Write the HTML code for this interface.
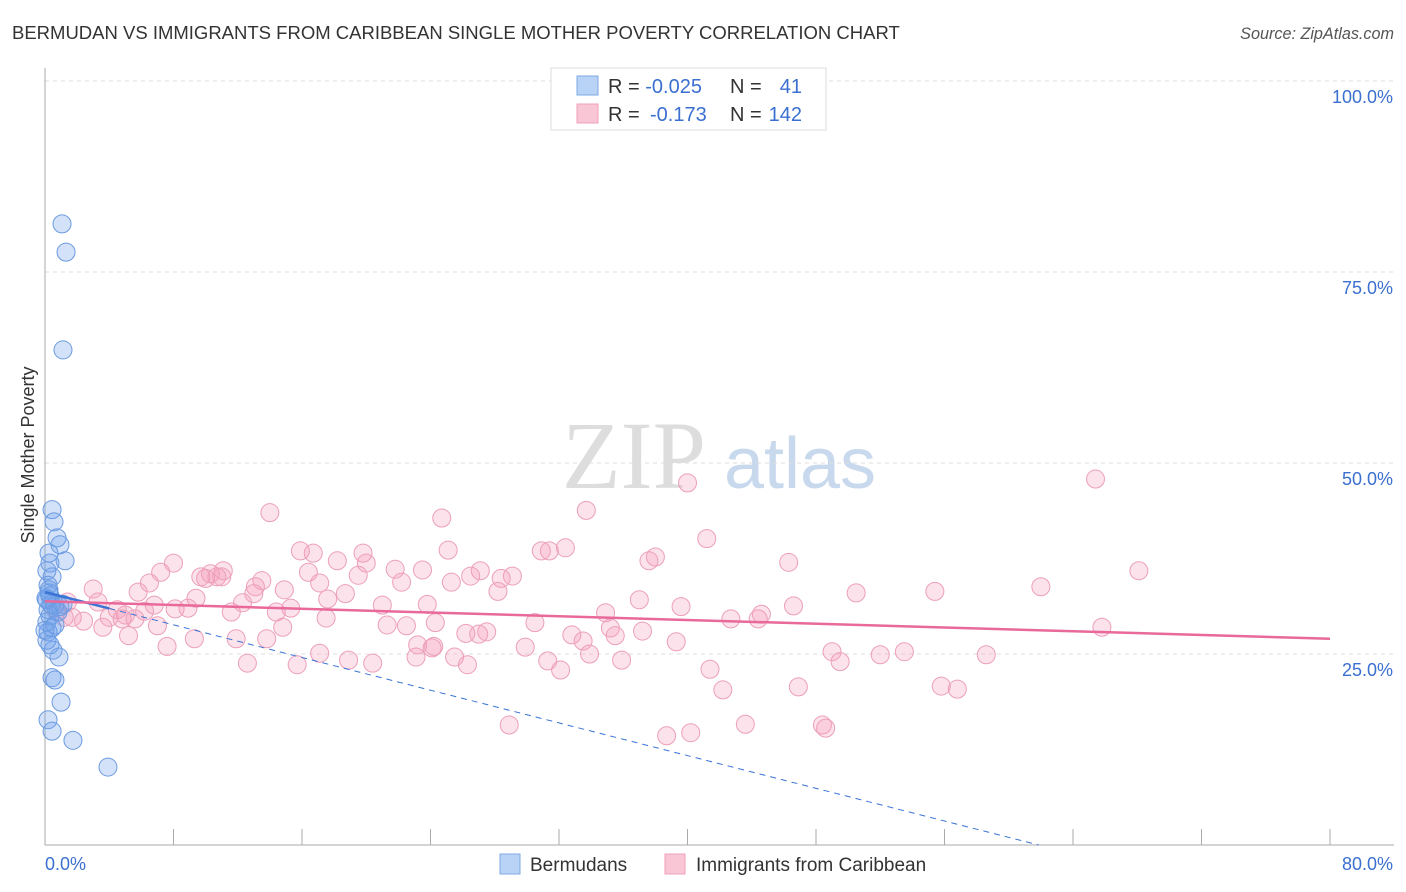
<!DOCTYPE html>
<html><head><meta charset="utf-8"><style>
body{margin:0;background:#fff;font-family:"Liberation Sans",sans-serif;}
svg{display:block}
</style></head><body>
<svg id="chart" width="1406" height="892">
<text x="12" y="39" font-size="18.5" fill="#333">BERMUDAN VS IMMIGRANTS FROM CARIBBEAN SINGLE MOTHER POVERTY CORRELATION CHART</text>
<text x="1394" y="39" font-size="16.2" fill="#555" text-anchor="end" font-style="italic">Source: ZipAtlas.com</text>
<text x="634" y="488" font-size="96" fill="#ddd" font-family="Liberation Serif" text-anchor="middle">ZIP</text>
<text x="800" y="488" font-size="72" fill="#c8d9ee" text-anchor="middle">atlas</text>
<g id="grid"></g>
<g id="axes"></g>
<g id="marks"></g>
<text transform="translate(34,455) rotate(-90)" font-size="18" fill="#333" text-anchor="middle">Single Mother Poverty</text>
<g>
<rect x="551" y="68" width="275" height="62" fill="#fff" stroke="#ddd"/>
<rect x="577" y="76" width="21" height="19" fill="#b8d3f5" stroke="#7fa9e3"/>
<rect x="577" y="104" width="21" height="19" fill="#f9c6d6" stroke="#eea0ba"/>
<text x="608" y="93" font-size="20" fill="#333">R = <tspan fill="#3b6fd0">-0.025</tspan></text>
<text x="730" y="93" font-size="20" fill="#333">N =</text><text x="802" y="93" font-size="20" fill="#3b6fd0" text-anchor="end">41</text>
<text x="608" y="121" font-size="20" fill="#333">R = </text><text x="650" y="121" font-size="20" fill="#3b6fd0">-0.173</text>
<text x="730" y="121" font-size="20" fill="#333">N = </text><text x="802" y="121" font-size="20" fill="#3b6fd0" text-anchor="end">142</text>
</g>
<g>
<rect x="500" y="854" width="20" height="20" fill="#b8d3f5" stroke="#7fa9e3"/>
<text x="530" y="871" font-size="19" fill="#333">Bermudans</text>
<rect x="665" y="854" width="20" height="20" fill="#f9c6d6" stroke="#eea0ba"/>
<text x="696" y="871" font-size="19" fill="#333">Immigrants from Caribbean</text>
</g>
</svg>
<script>
const xTicks=[0,8,16,24,32,40,48,56,64,72,80];
const yTicks=[25,50,75,100];
const blueX=[1.06,1.31,1.12,0.44,0.56,0.75,0.93,0.25,1.25,0.31,0.44,0.19,0.25,0.31,0.12,0.62,0.19,0.93,0.31,0.12,0.44,0.19,0.62,0,0.5,0.87,0.44,0.62,1.0,0.19,0.44,1.74,3.92,0.12,0.31,0.06,0.81,0.37,1.12,0.12,0.25];
const blueY=[81.3,77.6,64.8,43.9,42.3,40.2,39.3,38.2,37.2,36.9,35.1,34.0,33.4,32.6,32.1,31.4,30.8,31.2,30.0,29.2,28.4,27.9,28.8,28.1,25.5,24.6,21.9,21.6,18.7,16.4,14.9,13.7,10.2,26.8,26.2,32.3,30.5,31.5,31.5,35.9,33.0];
const pinkX=[14.0,15.9,16.7,24.7,25.1,33.7,40.0,41.2,65.4,68.1,62.0,65.8,55.4,50.5,46.3,46.6,44.6,42.7,39.6,37.0,38.0,37.6,34.9,32.4,30.9,31.4,29.1,28.4,28.2,27.1,26.5,25.3,23.5,22.2,21.8,20.0,19.8,19.5,18.2,17.1,16.4,14.9,13.5,13.1,13.0,11.1,11.0,10.7,10.3,10.0,9.7,8.0,7.2,6.5,5.8,3.0,4.0,4.5,5.0,5.6,6.2,6.8,8.1,8.9,9.4,12.3,11.6,15.3,14.4,17.6,18.7,21.0,23.8,30.5,27.5,27.0,26.2,24.3,22.5,21.3,23.2,24.1,24.2,17.5,14.8,13.8,11.9,9.3,7.6,7.0,5.2,3.6,2.4,1.7,1.2,0.7,3.3,1.4,4.8,35.2,35.5,37.2,32.8,33.5,29.9,25.5,26.3,31.3,32.1,33.9,35.9,39.3,44.4,49.0,49.5,52.0,53.5,58.6,41.4,42.2,46.9,55.8,56.8,28.9,38.7,40.2,43.6,48.4,48.6,12.6,15.7,18.9,20.4,23.1,17.1];
const pinkY=[43.5,38.5,38.2,42.8,38.6,43.8,47.4,40.1,47.9,35.9,33.8,28.5,33.2,33.0,37.0,31.3,30.2,29.6,31.2,32.1,37.7,37.2,30.4,38.9,38.5,38.5,35.2,34.9,33.2,35.9,35.2,34.4,36.0,34.4,36.1,36.9,38.2,35.3,37.2,34.3,35.7,33.4,34.6,33.8,32.9,35.9,35.1,35.1,35.5,34.9,35.1,36.9,35.7,34.3,33.1,33.5,29.8,30.8,30.1,29.6,30.6,31.4,30.9,31.0,32.3,31.7,30.5,31.0,30.5,32.2,32.9,31.4,31.5,29.1,27.9,27.6,27.7,29.1,28.7,28.8,26.2,25.8,26.0,29.7,28.5,27.0,27.0,27.0,26.0,28.7,27.4,28.5,29.3,29.8,29.8,30.6,31.8,31.8,29.6,28.4,27.4,28.0,27.5,26.7,25.9,24.6,23.6,24.1,22.9,25.0,24.2,26.6,29.6,25.3,24.0,24.9,25.3,24.9,23.0,20.3,20.7,20.8,20.4,15.7,14.3,14.7,15.8,15.7,15.3,23.8,23.6,24.2,23.8,24.6,25.1];
const blueTrend=[33.1,-0.535];
const pinkTrend=[31.9,-0.06125];
const NS="http://www.w3.org/2000/svg";
const sx=v=>45+v*(1285/80);
const sy=v=>845-v*7.64;
function mk(tag,attrs,parent){const e=document.createElementNS(NS,tag);for(const k in attrs)e.setAttribute(k,attrs[k]);document.getElementById(parent).appendChild(e);return e;}
yTicks.forEach(t=>{
 const l=mk('line',{x1:45,x2:1394,y1:sy(t),y2:sy(t),stroke:'#ddd','stroke-dasharray':'4,4'},'grid');
 
 
 const tx=mk('text',{x:1393,y:sy(t)+22,'font-size':18,fill:'#3b6fd0','text-anchor':'end'},'grid');
 tx.textContent=t.toFixed(1)+'%';
 
 
});
const ax=mk('line',{x1:45,x2:45,y1:68,y2:845,stroke:'#aaa'},'axes');


const bx=mk('line',{x1:45,x2:1394,y1:845,y2:845,stroke:'#aaa'},'axes');


xTicks.forEach(t=>{
 const l=mk('line',{x1:sx(t),x2:sx(t),y1:829,y2:845,stroke:'#aaa'},'axes');
 
 
});
[[0,'start'],[80,'end']].forEach(([t,a])=>{
 const tx=mk('text',{x:t===0?45:1393,y:870,'font-size':18,fill:'#3b6fd0','text-anchor':a},'axes');
 tx.textContent=t.toFixed(1)+'%';
 
 
});
pinkX.forEach((x,i)=>{
 const c=mk('circle',{cx:sx(x),cy:sy(pinkY[i]),r:9,fill:'rgba(244,160,190,0.3)',stroke:'#ec9fba','stroke-width':1},'marks');
 
 
});
blueX.forEach((x,i)=>{
 const c=mk('circle',{cx:sx(x),cy:sy(blueY[i]),r:9,fill:'rgba(110,160,235,0.3)',stroke:'#6c9be0','stroke-width':1},'marks');
 
 
});
const bEnd=-blueTrend[0]/blueTrend[1];
const bd=mk('line',{x1:sx(4),y1:sy(blueTrend[0]+blueTrend[1]*4),x2:sx(bEnd),y2:sy(0),stroke:'#3b73d4','stroke-width':1,'stroke-dasharray':'6,5'},'marks');


const bs=mk('line',{x1:sx(0),y1:sy(blueTrend[0]),x2:sx(4),y2:sy(blueTrend[0]+blueTrend[1]*4),stroke:'#3b73d4','stroke-width':2.5},'marks');


const ps=mk('line',{x1:sx(0),y1:sy(pinkTrend[0]),x2:sx(80),y2:sy(pinkTrend[0]+pinkTrend[1]*80),stroke:'#e8699a','stroke-width':2.5},'marks');


</script>
</body></html>
